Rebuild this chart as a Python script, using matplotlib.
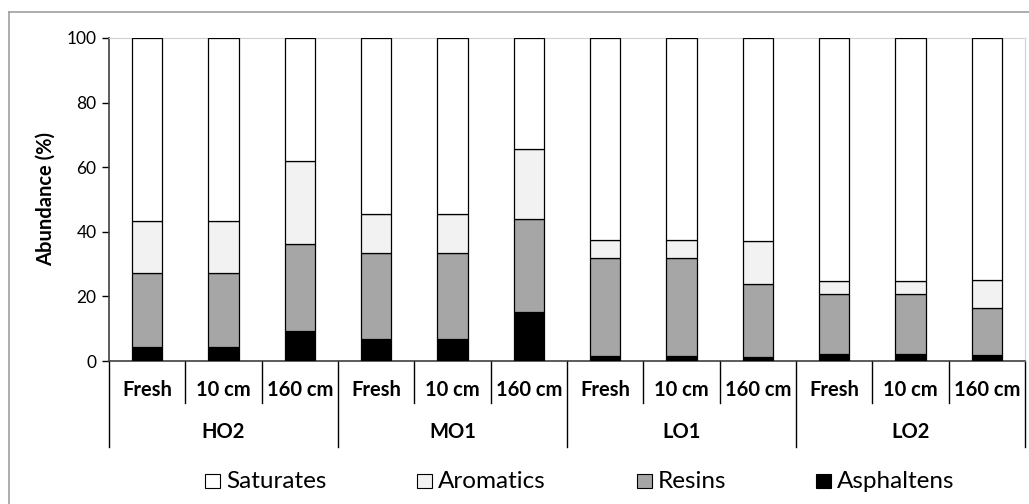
import numpy as np
import matplotlib.pyplot as plt
from matplotlib import rcParams
from matplotlib.lines import Line2D
from matplotlib.patches import Rectangle

rcParams["font.family"] = ["Lato", "DejaVu Sans"]

groups = ["HO2", "MO1", "LO1", "LO2"]
samples = ["Fresh", "10 cm", "160 cm"]
asphaltens = [4.2, 4.2, 9.2, 6.7, 6.7, 15.2, 1.5, 1.5, 1.3, 2.3, 2.3, 2.0]
resins = [23.1, 23.1, 27.0, 26.6, 26.6, 28.7, 30.3, 30.3, 22.5, 18.5, 18.5, 14.3]
aromatics = [16.0, 16.0, 25.8, 12.2, 12.2, 21.8, 5.8, 5.8, 13.2, 4.0, 4.0, 8.7]
saturates = [56.7, 56.7, 38.0, 54.5, 54.5, 34.3, 62.4, 62.4, 63.0, 75.2, 75.2, 75.0]

series = [("Asphaltens", asphaltens, "#000000"),
          ("Resins", resins, "#a6a6a6"),
          ("Aromatics", aromatics, "#f2f2f2"),
          ("Saturates", saturates, "#ffffff")]

W, H = 1029, 504


def main():
    fig = plt.figure(figsize=(W / 100, H / 100), dpi=100)
    ax = fig.add_axes([109 / W, 1 - 361 / H, 916 / W, 323 / H])

    n = len(groups) * len(samples)
    x = np.arange(n)
    bottom = np.zeros(n)
    colors = {}
    for name, vals, col in series:
        vals = np.array(vals)
        ax.bar(x, vals, width=0.4, bottom=bottom, color=col,
               edgecolor="black", linewidth=0.9, zorder=3)
        bottom += vals
        colors[name] = col

    ax.set_xlim(-0.5, n - 0.5)
    ax.set_ylim(0, 100)
    ax.set_yticks(range(0, 101, 20))
    ax.tick_params(axis="y", direction="out", length=5, width=1, labelsize=12.5, pad=4)
    ax.set_xticks([])
    ax.set_ylabel("Abundance (%)", fontsize=14.5, fontweight="bold", labelpad=8)

    for s in ("top", "right"):
        ax.spines[s].set_color("#d0d0d0")
    ax.spines["left"].set_color("#404040")
    ax.spines["bottom"].set_color("#404040")
    ax.spines["left"].set_linewidth(1.2)
    ax.spines["bottom"].set_linewidth(1.2)

    trans = ax.get_xaxis_transform()
    # category separators and labels
    for i in range(n + 1):
        xb = i - 0.5
        y_end = -0.266 if i % len(samples) == 0 else -0.130
        ax.add_line(Line2D([xb, xb], [0, y_end], transform=trans,
                           color="black", linewidth=1, clip_on=False))
    for i in range(n):
        ax.text(i, -0.09, samples[i % len(samples)], transform=trans,
                ha="center", va="center", fontsize=14.5, fontweight="bold")
    for g, name in enumerate(groups):
        ax.text(g * len(samples) + 1, -0.22, name, transform=trans,
                ha="center", va="center", fontsize=14.5, fontweight="bold")

    # legend, laid out like the original
    order = ["Saturates", "Aromatics", "Resins", "Asphaltens"]
    box_x = [205, 417, 637, 816]
    for name, bx in zip(order, box_x):
        fig.add_artist(Rectangle((bx / W, 1 - 488 / H), 15 / W, 14 / H,
                                 transform=fig.transFigure, facecolor=colors[name],
                                 edgecolor="black", linewidth=0.8))
        fig.text((bx + 21) / W, 1 - 482 / H, name, ha="left", va="center",
                 fontsize=17.5)

    # outer chart border (left and top visible)
    fig.add_artist(Line2D([9 / W, 9 / W], [0, 1 - 12 / H],
                          transform=fig.transFigure, color="#a0a0a0", linewidth=1.2))
    fig.add_artist(Line2D([9 / W, 1], [1 - 12 / H, 1 - 12 / H],
                          transform=fig.transFigure, color="#a0a0a0", linewidth=1.2))

    fig.savefig("out.png", dpi=100)


if __name__ == "__main__":
    main()
